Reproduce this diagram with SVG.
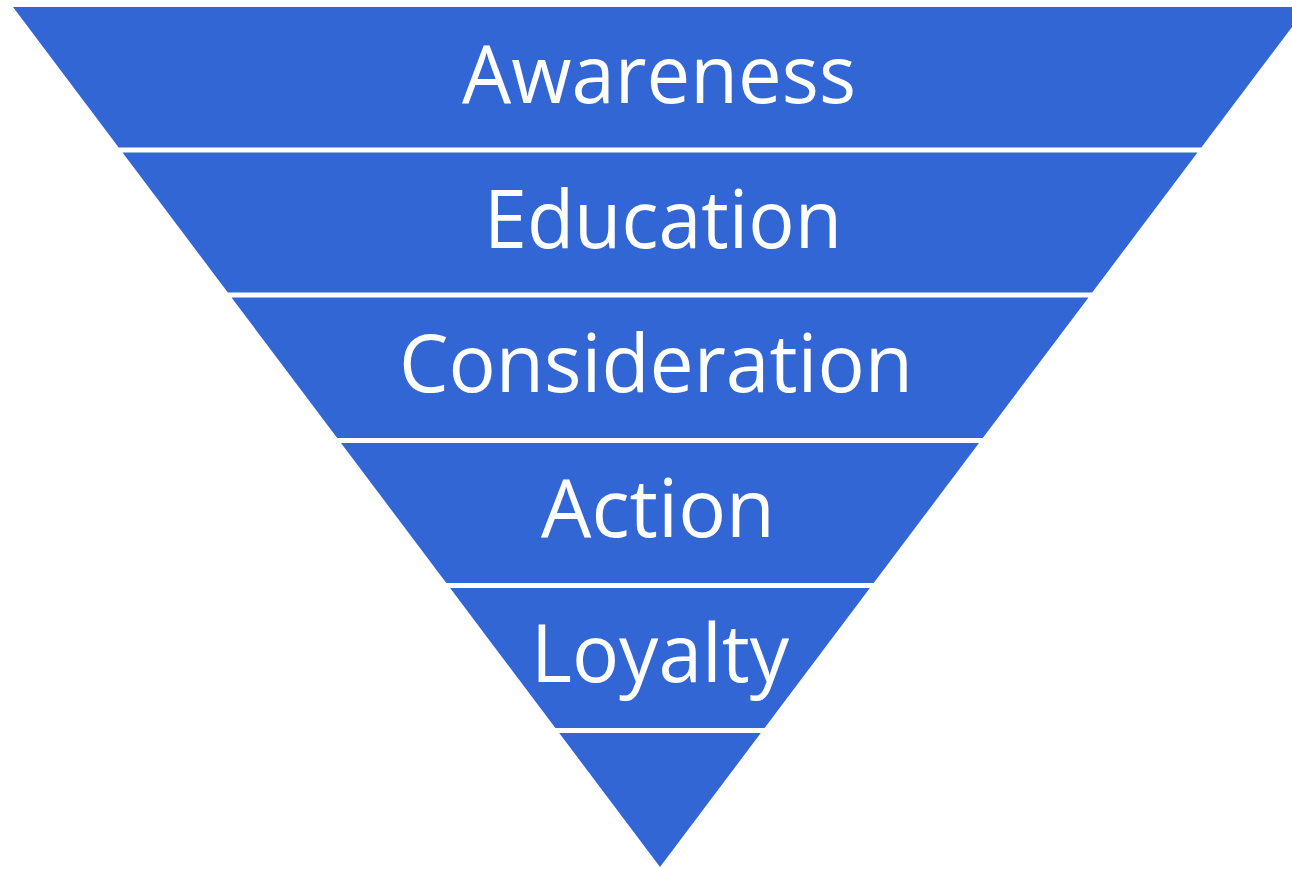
<svg xmlns="http://www.w3.org/2000/svg" width="1292" height="869" viewBox="0 0 1292 869">
  <style>
    .band { fill: #3366d5; }
    .lbl { fill: #ffffff; font-family: "Open Sans", "Noto Sans", "Liberation Sans", sans-serif; font-size: 80px; text-anchor: middle; }
  </style>
  <rect width="1292" height="869" fill="#ffffff"/>
  <g id="awareness">
    <polygon class="band" points="13,7 1307,7 1201.3,147.5 118.7,147.5"/>
    <text class="lbl" x="659" y="103" textLength="394" lengthAdjust="spacingAndGlyphs">Awareness</text>
  </g>
  <g id="education">
    <polygon class="band" points="122.5,152.5 1197.5,152.5 1092.2,292.5 227.8,292.5"/>
    <text class="lbl" x="663" y="248" textLength="358" lengthAdjust="spacingAndGlyphs">Education</text>
  </g>
  <g id="consideration">
    <polygon class="band" points="231.5,297.5 1088.5,297.5 982.8,438 337.2,438"/>
    <text class="lbl" x="656" y="392" textLength="514" lengthAdjust="spacingAndGlyphs">Consideration</text>
  </g>
  <g id="action">
    <polygon class="band" points="341,443 979,443 873.7,583 446.3,583"/>
    <text class="lbl" x="658" y="537" textLength="234" lengthAdjust="spacingAndGlyphs">Action</text>
  </g>
  <g id="loyalty">
    <polygon class="band" points="450.1,588 869.9,588 764.6,728 555.4,728"/>
    <text class="lbl" x="660" y="682" textLength="258" lengthAdjust="spacingAndGlyphs">Loyalty</text>
  </g>
  <g id="tip">
    <polygon class="band" points="559.2,733 760.8,733 660,867"/>
  </g>
  <g id="connectors"></g>
</svg>
